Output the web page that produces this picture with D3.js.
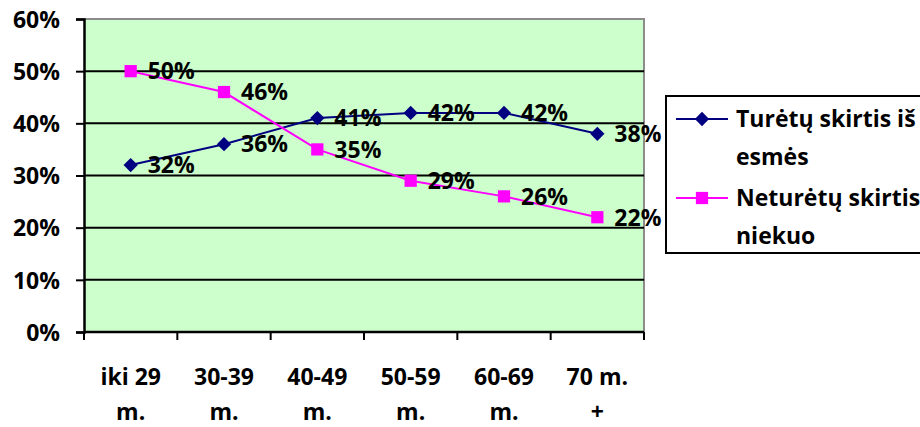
<!DOCTYPE html>
<html>
<head>
<meta charset="utf-8">
<script src="https://cdn.jsdelivr.net/npm/d3@7"></script>
<style>
  body { margin: 0; background: #fff; }
  text { font-family: "Open Sans", Lato, sans-serif; font-weight: bold; fill: #000; }
</style>
</head>
<body>
<div id="chart"></div>
<script>
// Data
const categories = [["iki 29", "m."], ["30-39", "m."], ["40-49", "m."], ["50-59", "m."], ["60-69", "m."], ["70 m.", "+"]];
const seriesNames = [["Turėtų skirtis iš", "esmės"], ["Neturėtų skirtis", "niekuo"]];
const turetu = [32, 36, 41, 42, 42, 38];
const neturetu = [50, 46, 35, 29, 26, 22];
const yTicks = [0, 10, 20, 30, 40, 50, 60];

const width = 920, height = 427;
const plot = { left: 84, right: 644, top: 19, bottom: 332 };

const svg = d3.select("#chart").append("svg")
  .attr("width", width)
  .attr("height", height);

const x = d3.scaleBand()
  .domain(categories.map((d, i) => i))
  .range([plot.left, plot.right])
  .padding(0);
const y = d3.scaleLinear().domain([0, 60]).range([plot.bottom, plot.top]);
const cx = i => x(i) + x.bandwidth() / 2;

// plot background
svg.append("rect")
  .attr("x", plot.left).attr("y", plot.top)
  .attr("width", plot.right - plot.left).attr("height", plot.bottom - plot.top)
  .attr("fill", "#ccffcc");

// grey border top/right
svg.append("path")
  .attr("d", `M${plot.left},${plot.top}H${plot.right}V${plot.bottom}`)
  .attr("fill", "none").attr("stroke", "#8c8c8c").attr("stroke-width", 2);

// gridlines
svg.append("g").selectAll("line")
  .data(yTicks.filter(t => t > 0 && t < 60))
  .join("line")
  .attr("x1", plot.left).attr("x2", plot.right)
  .attr("y1", d => y(d)).attr("y2", d => y(d))
  .attr("stroke", "#000").attr("stroke-width", 2);

// y axis
const yAxis = svg.append("g")
  .attr("transform", `translate(${plot.left},0)`)
  .call(d3.axisLeft(y).tickValues(yTicks).tickFormat(d => d + "%").tickSize(8).tickPadding(16));
yAxis.select(".domain").attr("stroke", "#000").attr("stroke-width", 2.5);
yAxis.selectAll(".tick line").attr("stroke", "#000").attr("stroke-width", 2);
yAxis.selectAll("text")
  .style("font-size", "23px")
  .style("font-family", "'Open Sans', sans-serif")
  .style("font-weight", "bold")
  .attr("dy", "0.36em");

// x axis
const xTickPos = d3.range(categories.length + 1).map(i => plot.left + i * x.bandwidth());
svg.append("line")
  .attr("x1", plot.left).attr("x2", plot.right)
  .attr("y1", plot.bottom).attr("y2", plot.bottom)
  .attr("stroke", "#000").attr("stroke-width", 2.5);
svg.append("g").selectAll("line")
  .data(xTickPos)
  .join("line")
  .attr("x1", d => d).attr("x2", d => d)
  .attr("y1", plot.bottom).attr("y2", plot.bottom + 8)
  .attr("stroke", "#000").attr("stroke-width", 2);

const xl = svg.append("g").selectAll("text")
  .data(categories)
  .join("text")
  .attr("x", (d, i) => cx(i))
  .attr("text-anchor", "middle")
  .style("font-size", "23px");
xl.append("tspan").attr("x", (d, i) => cx(i)).attr("y", 385).text(d => d[0]);
xl.append("tspan").attr("x", (d, i) => cx(i)).attr("y", 420).text(d => d[1]);

// lines
const line = d3.line().x((d, i) => cx(i)).y(d => y(d));
const series = [
  { values: turetu, color: "#000080", symbol: d3.symbolDiamond2, size: 130 },
  { values: neturetu, color: "#ff00ff", symbol: d3.symbolSquare, size: 150 }
];

series.forEach(s => {
  svg.append("path")
    .datum(s.values)
    .attr("d", line)
    .attr("fill", "none")
    .attr("stroke", s.color)
    .attr("stroke-width", 2);
});

series.forEach(s => {
  svg.append("g").selectAll("path")
    .data(s.values)
    .join("path")
    .attr("d", d3.symbol().type(s.symbol).size(s.size))
    .attr("transform", (d, i) => `translate(${cx(i)},${y(d)})`)
    .attr("fill", s.color);
});

series.forEach(s => {
  svg.append("g").selectAll("text")
    .data(s.values)
    .join("text")
    .attr("x", (d, i) => cx(i) + 17)
    .attr("y", d => y(d))
    .attr("dy", "0.36em")
    .style("font-size", "23px")
    .text(d => d + "%");
});

// legend
const legend = svg.append("g");
legend.append("rect")
  .attr("x", 666).attr("y", 96)
  .attr("width", 270).attr("height", 157)
  .attr("fill", "#fff").attr("stroke", "#000").attr("stroke-width", 2);

const legendRows = [119, 198];
series.forEach((s, k) => {
  const ly = legendRows[k];
  legend.append("line")
    .attr("x1", 676).attr("x2", 728)
    .attr("y1", ly).attr("y2", ly)
    .attr("stroke", s.color).attr("stroke-width", 2);
  legend.append("path")
    .attr("d", d3.symbol().type(s.symbol).size(s.size))
    .attr("transform", `translate(702,${ly})`)
    .attr("fill", s.color);
  const t = legend.append("text").style("font-size", "23px");
  t.append("tspan").attr("x", 736).attr("y", ly).attr("dy", "0.36em").text(seriesNames[k][0]);
  t.append("tspan").attr("x", 736).attr("y", ly + 38).attr("dy", "0.36em").text(seriesNames[k][1]);
});
</script>
</body>
</html>
